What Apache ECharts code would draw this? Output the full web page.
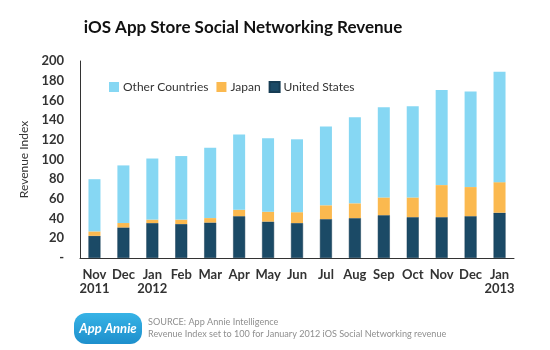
<!DOCTYPE html>
<html>
<head>
<meta charset="utf-8">
<script src="https://cdn.jsdelivr.net/npm/echarts@6/dist/echarts.min.js"></script>
<style>html,body{margin:0;padding:0;background:#fff}#c{width:550px;height:350px}</style>
</head>
<body>
<div id="c"></div>
<script>
var categories = ['Nov\n2011','Dec','Jan\n2012','Feb','Mar','Apr','May','Jun','Jul','Aug','Sep','Oct','Nov','Dec','Jan\n2013'];
var unitedStates = [22.5, 31, 35.5, 34.5, 36, 42.5, 37, 35.5, 39.5, 40.5, 43.5, 41.5, 41.5, 42.5, 46];
var japan = [4.5, 4.5, 3.5, 4.5, 4.5, 6.5, 10, 11, 14, 15, 18, 20, 32.5, 29.5, 31];
var otherCountries = [53, 58.5, 62, 64.5, 71.5, 76.5, 74.5, 74, 80, 87.5, 91.5, 92.5, 96.5, 97, 112];
var yTicks = [0, 20, 40, 60, 80, 100, 120, 140, 160, 180, 200];

var chart = echarts.init(document.getElementById('c'));
var font = 'Lato, "Open Sans", sans-serif';
chart.setOption({
  animation: false,
  title: {
    text: 'iOS App Store Social Networking Revenue',
    left: 238, top: 14, textAlign: 'center',
    textStyle: {fontFamily: font, fontSize: 17, fontWeight: 'bold', color: '#111'}
  },
  legend: {
    left: 104, top: 76,
    itemWidth: 10, itemHeight: 10, itemGap: 8,
    icon: 'rect',
    data: ['Other Countries', 'Japan', 'United States'],
    textStyle: {fontFamily: font, fontSize: 12, color: '#333', padding: [0,0,0,-1]}
  },
  grid: {left: 80, right: 36, top: 61, bottom: 92},
  xAxis: {
    type: 'category', data: categories,
    axisLine: {lineStyle: {color: '#333', width: 1}},
    axisTick: {show: false},
    axisLabel: {fontFamily: font, fontSize: 13, color: '#333', fontWeight: 'bold', margin: 10, lineHeight: 14, interval: 0}
  },
  yAxis: {
    type: 'value', min: 0, max: 200, interval: 20,
    name: 'Revenue Index', nameLocation: 'middle', nameGap: 42, nameRotate: 90,
    nameTextStyle: {fontFamily: font, fontSize: 12, color: '#333'},
    axisLine: {show: true, lineStyle: {color: '#333', width: 1}},
    axisTick: {show: false},
    splitLine: {show: false},
    axisLabel: {fontFamily: font, fontSize: 13, color: '#333', fontWeight: 'bold', margin: 16,
      formatter: function (v) { return yTicks.indexOf(v) === 0 ? '-' : String(v); }}
  },
  series: [
    {name: 'United States', type: 'bar', stack: 't', data: unitedStates, barWidth: 12,
      itemStyle: {color: '#1b4a66', borderColor: '#163c54', borderWidth: 0.5}},
    {name: 'Japan', type: 'bar', stack: 't', data: japan, barWidth: 12,
      itemStyle: {color: '#fbb94f'}},
    {name: 'Other Countries', type: 'bar', stack: 't', data: otherCountries, barWidth: 12,
      itemStyle: {color: '#86d7f3'}}
  ],
  graphic: [
    {type: 'rect', left: 74, top: 313, shape: {width: 68, height: 31, r: 12},
      style: {fill: {type: 'linear', x: 0, y: 0, x2: 0, y2: 1, colorStops: [{offset: 0, color: '#37b3e6'}, {offset: 1, color: '#1d8fcc'}]}}},
    {type: 'text', x: 108, y: 329, style: {text: 'App Annie', fill: '#fff', align: 'center', verticalAlign: 'middle', font: 'italic bold 13px Lato, sans-serif'}},
    {type: 'text', left: 148, top: 318, style: {text: 'SOURCE: App Annie Intelligence', fill: '#8f8f8f', font: '9.1px Lato, sans-serif'}},
    {type: 'text', left: 148, top: 330, style: {text: 'Revenue Index set to 100 for January 2012 iOS Social Networking revenue', fill: '#8f8f8f', font: '9.1px Lato, sans-serif'}}
  ]
});
</script>
</body>
</html>
